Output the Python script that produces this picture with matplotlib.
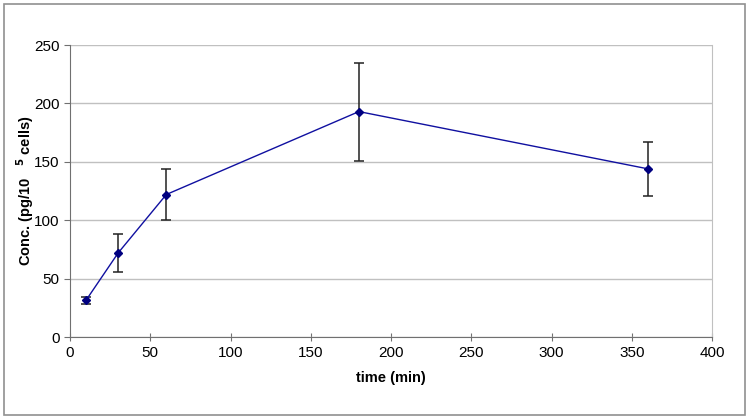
import matplotlib
matplotlib.use('Agg')
import matplotlib.pyplot as plt
from matplotlib.patches import Rectangle

plt.rcParams['font.family'] = ['Liberation Sans', 'DejaVu Sans']

# time points (min) and mean concentration
time_min = [10, 30, 60, 180, 360]
conc = [31.5, 72, 122, 193, 144]
conc_err = [3, 16.5, 22, 42, 23]

fig = plt.figure(figsize=(7.49, 4.19), dpi=100)
ax = fig.add_axes([0.0935, 0.1957, 0.8571, 0.6969])

# outer chart border
fig.patches.append(Rectangle((0.006, 0.010), 0.988, 0.980, transform=fig.transFigure,
                             fill=False, edgecolor='#909090', linewidth=1.2))

ax.errorbar(time_min, conc, yerr=conc_err, fmt='none', ecolor='#222222',
            elinewidth=1.1, capsize=3.5, capthick=1.1, zorder=2)
ax.plot(time_min, conc, color='#1010a0', linewidth=1.0, marker='D',
        markersize=4.5, markerfacecolor='#000080', markeredgecolor='#000080', zorder=3)

ax.set_xlim(0, 400)
ax.set_ylim(0, 250)
ax.set_xticks(range(0, 401, 50))
ax.set_yticks(range(0, 251, 50))
ax.yaxis.grid(True, color='#c0c0c0', linewidth=1.0)
ax.set_axisbelow(True)

ax.spines['top'].set_visible(False)
ax.spines['right'].set_color('#c0c0c0')
ax.spines['left'].set_color('#707070')
ax.spines['bottom'].set_color('#707070')
ax.tick_params(axis='both', colors='#707070', labelcolor='black', labelsize=11, length=4)
ax.tick_params(axis='x', direction='inout', length=6)

ax.set_xlabel('time (min)', fontsize=10.5, fontweight='bold', labelpad=8)
ax.set_ylabel('Conc. (pg/10   ' + r'$^{\mathbf{5}}$' + ' cells)', fontsize=10.5,
              fontweight='bold', labelpad=-1)

fig.savefig('out.png', dpi=100)
